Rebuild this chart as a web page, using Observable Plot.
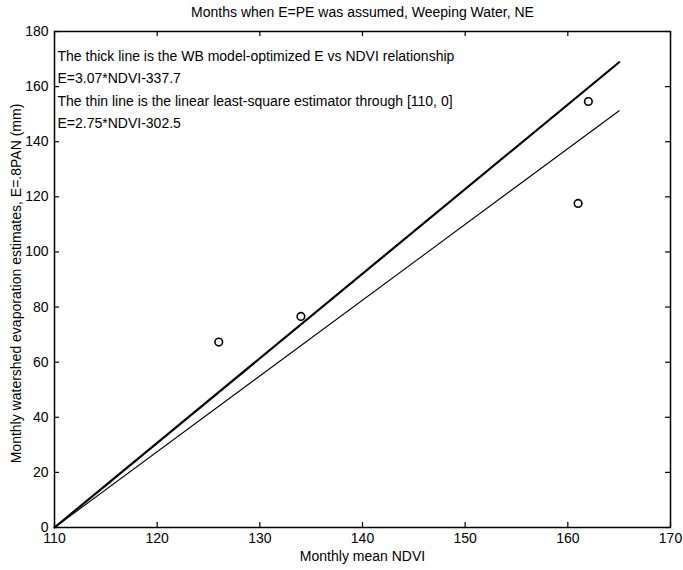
<!DOCTYPE html>
<html>
<head>
<meta charset="utf-8">
<script src="https://cdn.jsdelivr.net/npm/d3@7"></script>
<script src="https://cdn.jsdelivr.net/npm/@observablehq/plot@0.6"></script>
<style>
  body { margin: 0; background: #fff; }
  #chart svg { display: block; }
</style>
</head>
<body>
<div id="chart"></div>
<script>
// Observed months when E = PE was assumed (Weeping Water, NE)
const ndvi = [126, 134, 161, 162];
const evap = [67.3, 76.6, 117.6, 154.6];

// Fitted relationships E = slope * NDVI + intercept, drawn from 110 to 165
const fitNames = ["thick", "thin"];
const fitSlopes = [3.07, 2.75];
const fitIntercepts = [-337.7, -302.5];
const fitRange = [110, 165];

const xTicks = [110, 120, 130, 140, 150, 160, 170];
const yTicks = [0, 20, 40, 60, 80, 100, 120, 140, 160, 180];

const notes = [
  "The thick line is the WB model-optimized E vs NDVI relationship",
  "E=3.07*NDVI-337.7",
  "The thin line is the linear least-square estimator through [110, 0]",
  "E=2.75*NDVI-302.5"
];

const points = ndvi.map((x, i) => ({x, y: evap[i]}));
const fitLines = fitNames.map((name, i) =>
  fitRange.map(x => ({name, x, y: fitSlopes[i] * x + fitIntercepts[i]}))
);

const W = 683, H = 570;
const mL = 54, mR = 13, mT = 31, mB = 43;
const frameW = W - mL - mR, frameH = H - mT - mB;
const tick = 5;
const font = "Liberation Sans, Arial, Helvetica, sans-serif";
const fs = 14;

const chart = Plot.plot({
  width: W,
  height: H,
  marginLeft: mL,
  marginRight: mR,
  marginTop: mT,
  marginBottom: mB,
  style: {fontFamily: font, fontSize: fs + "px", color: "#000", background: "#fff"},
  x: {domain: [110, 170], ticks: xTicks},
  y: {domain: [0, 180], ticks: yTicks},
  marks: [
    // tick labels (the ticks themselves are drawn inward below)
    Plot.axisX(xTicks, {anchor: "bottom", tickSize: 0, tickPadding: 6, label: null, fontSize: fs}),
    Plot.axisY(yTicks, {anchor: "left", tickSize: 0, tickPadding: 6, label: null, fontSize: fs}),
    // inward ticks on all four sides
    Plot.tickX(xTicks, {x: d => d, insetTop: frameH - tick, stroke: "#000", strokeWidth: 1.2}),
    Plot.tickX(xTicks, {x: d => d, insetBottom: frameH - tick, stroke: "#000", strokeWidth: 1.2}),
    Plot.tickY(yTicks, {y: d => d, insetRight: frameW - tick, stroke: "#000", strokeWidth: 1.2}),
    Plot.tickY(yTicks, {y: d => d, insetLeft: frameW - tick, stroke: "#000", strokeWidth: 1.2}),
    Plot.frame({stroke: "#000", strokeWidth: 1.5}),
    // fitted lines
    Plot.line(fitLines[0], {x: "x", y: "y", stroke: "#000", strokeWidth: 2.2}),
    Plot.line(fitLines[1], {x: "x", y: "y", stroke: "#000", strokeWidth: 1.1}),
    // observations
    Plot.dot(points, {x: "x", y: "y", r: 3.8, stroke: "#000", strokeWidth: 1.6, fill: "none"}),
    // annotation block
    ...notes.map((t, i) => Plot.text([t], {
      frameAnchor: "top-left",
      dx: 3,
      dy: 25 + i * 22.5,
      fontSize: fs,
      textAnchor: "start",
      lineAnchor: "middle",
      fill: "#000"
    })),
    // title and axis labels
    Plot.text(["Months when E=PE was assumed, Weeping Water, NE"], {
      frameAnchor: "top", dy: -19, fontSize: fs, textAnchor: "middle", lineAnchor: "middle", fill: "#000"
    }),
    Plot.text(["Monthly mean NDVI"], {
      frameAnchor: "bottom", dy: 29, fontSize: fs, textAnchor: "middle", lineAnchor: "middle", fill: "#000"
    }),
    Plot.text(["Monthly watershed evaporation estimates, E=.8PAN (mm)"], {
      frameAnchor: "left", dx: -38, dy: 4, rotate: -90, fontSize: fs, textAnchor: "middle", lineAnchor: "middle", fill: "#000"
    })
  ]
});

document.getElementById("chart").appendChild(chart);
</script>
</body>
</html>
